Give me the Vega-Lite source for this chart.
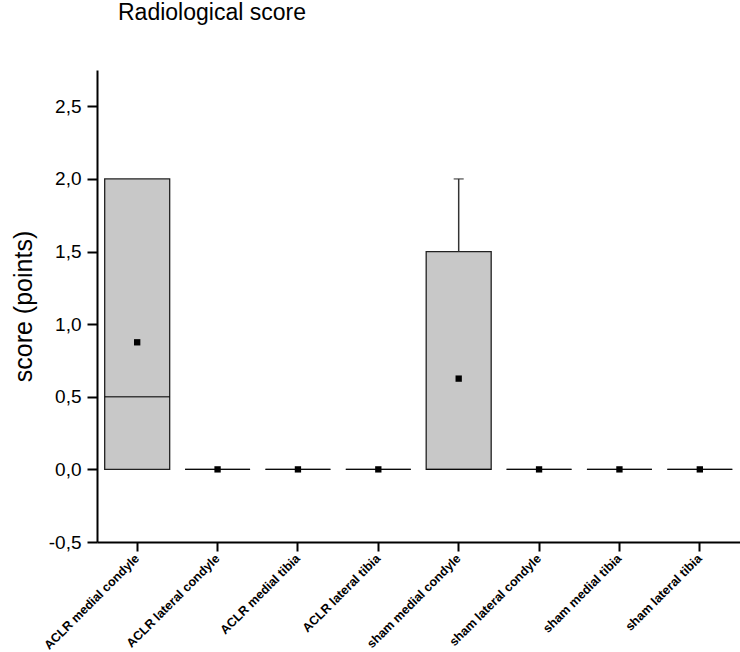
{
  "$schema": "https://vega.github.io/schema/vega-lite/v6.json",
  "autosize": {"type": "none"},
  "padding": {"left": 97, "top": 70, "right": 0, "bottom": 110},
  "width": 643,
  "height": 472,
  "background": "white",
  "title": {"text": "Radiological score", "anchor": "start", "frame": "group", "dx": 21, "fontSize": 23, "font": "Liberation Sans", "fontWeight": "normal", "color": "black", "baseline": "alphabetic", "offset": 27},
  "config": {
    "view": {"stroke": null},
    "font": "Liberation Sans"
  },
  "data": {"values": [
    {"cat": "ACLR medial condyle", "q1": 0, "q3": 2, "median": 0.5, "lower": 0, "upper": 2, "mean": 0.875},
    {"cat": "ACLR lateral condyle", "q1": 0, "q3": 0, "median": 0, "lower": 0, "upper": 0, "mean": 0},
    {"cat": "ACLR medial tibia", "q1": 0, "q3": 0, "median": 0, "lower": 0, "upper": 0, "mean": 0},
    {"cat": "ACLR lateral tibia", "q1": 0, "q3": 0, "median": 0, "lower": 0, "upper": 0, "mean": 0},
    {"cat": "sham medial condyle", "q1": 0, "q3": 1.5, "median": 0, "lower": 0, "upper": 2, "mean": 0.625},
    {"cat": "sham lateral condyle", "q1": 0, "q3": 0, "median": 0, "lower": 0, "upper": 0, "mean": 0},
    {"cat": "sham medial tibia", "q1": 0, "q3": 0, "median": 0, "lower": 0, "upper": 0, "mean": 0},
    {"cat": "sham lateral tibia", "q1": 0, "q3": 0, "median": 0, "lower": 0, "upper": 0, "mean": 0}
  ]},
  "encoding": {
    "x": {
      "field": "cat", "type": "nominal", "sort": null,
      "scale": {"paddingInner": 0, "paddingOuter": 0},
      "axis": {
        "title": null, "labelAngle": -45, "labelAlign": "right", "labelBaseline": "middle",
        "labelFont": "Liberation Sans", "labelFontWeight": "bold", "labelFontSize": 12.5, "labelColor": "black",
        "labelPadding": 5, "tickSize": 9, "tickWidth": 2, "tickColor": "black",
        "domainColor": "black", "domainWidth": 2, "grid": false
      }
    }
  },
  "layer": [
    {
      "mark": {"type": "bar", "width": 65, "fill": "#c8c8c8", "stroke": "#222222", "strokeWidth": 1.3},
      "encoding": {
        "y": {
          "field": "q1", "type": "quantitative",
          "scale": {"domain": [-0.5, 2.75], "nice": false, "zero": false},
          "axis": {
            "title": "score (points)", "titleFontSize": 25, "titleFont": "Liberation Sans", "titleFontWeight": "normal", "titleColor": "black", "titlePadding": 12,
            "values": [-0.5, -0.25, 0, 0.25, 0.5, 0.75, 1, 1.25, 1.5, 1.75, 2, 2.25, 2.5, 2.75],
            "labelExpr": "datum.value*2 == round(datum.value*2) ? replace(replace(format(datum.value, '.1f'), '.', ','), '\u2212', '-') : ''",
            "labelFontSize": 19, "labelColor": "black", "labelPadding": 6,
            "tickSize": {"condition": {"test": "datum.value*2 != round(datum.value*2)", "value": 5}, "value": 10},
            "tickWidth": 2, "tickColor": "black", "domainColor": "black", "domainWidth": 2, "grid": false
          }
        },
        "y2": {"field": "q3"}
      }
    },
    {
      "mark": {"type": "tick", "size": 65, "thickness": 1.3, "color": "black"},
      "encoding": {"y": {"field": "median", "type": "quantitative"}}
    },
    {
      "transform": [{"filter": "datum.upper > datum.q3"}],
      "mark": {"type": "rule", "color": "#333333", "strokeWidth": 1.5},
      "encoding": {"y": {"field": "q3", "type": "quantitative"}, "y2": {"field": "upper"}}
    },
    {
      "transform": [{"filter": "datum.upper > datum.q3"}],
      "mark": {"type": "tick", "size": 10, "thickness": 1.5, "color": "#333333"},
      "encoding": {"y": {"field": "upper", "type": "quantitative"}}
    },
    {
      "mark": {"type": "square", "size": 40, "filled": true, "color": "black", "opacity": 1},
      "encoding": {"y": {"field": "mean", "type": "quantitative"}}
    }
  ]
}
